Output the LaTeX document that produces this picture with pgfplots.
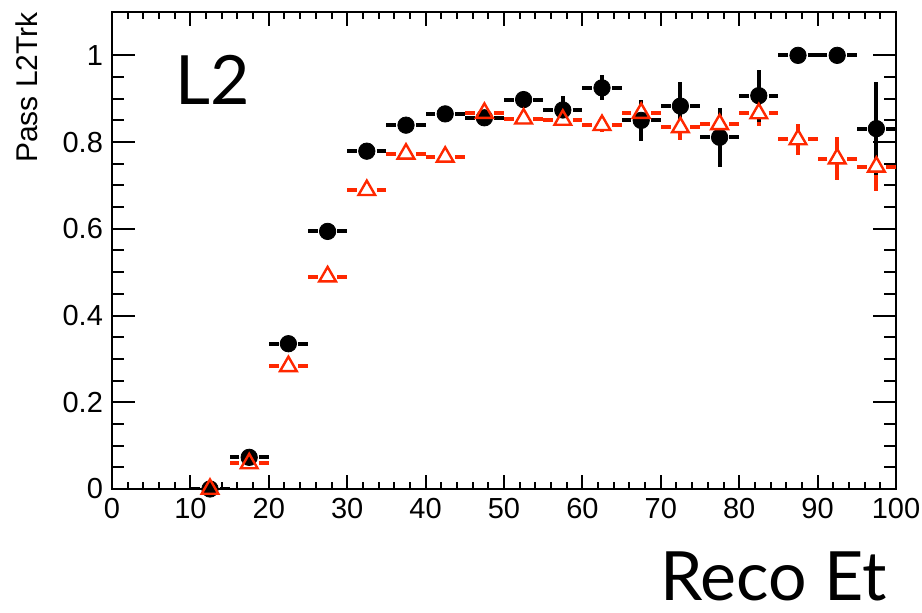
\documentclass[border=0pt]{standalone}
\usepackage{pgfplots}
\pgfplotsset{compat=1.18}
\usepackage{pgfplotstable}
\usepackage{fontspec}
\setmainfont{Liberation Sans}
\newfontfamily\gill{Lato}
\definecolor{rootred}{RGB}{255,40,0}

\pgfplotstableread{
x y ey
12.5 0.000 0.000
17.5 0.073 0.010
22.5 0.335 0.010
27.5 0.594 0.010
32.5 0.779 0.010
37.5 0.839 0.010
42.5 0.865 0.010
47.5 0.856 0.012
52.5 0.898 0.015
57.5 0.874 0.032
62.5 0.925 0.029
67.5 0.850 0.048
72.5 0.883 0.055
77.5 0.811 0.068
82.5 0.907 0.060
87.5 1.000 0.000
92.5 1.000 0.000
97.5 0.831 0.107
}\blk

\pgfplotstableread{
x y ey
12.5 0.000 0.000
17.5 0.059 0.010
22.5 0.283 0.010
27.5 0.490 0.010
32.5 0.689 0.010
37.5 0.773 0.010
42.5 0.766 0.010
47.5 0.867 0.010
52.5 0.854 0.010
57.5 0.851 0.015
62.5 0.839 0.015
67.5 0.867 0.020
72.5 0.834 0.030
77.5 0.841 0.038
82.5 0.866 0.028
87.5 0.806 0.036
92.5 0.762 0.050
97.5 0.743 0.055
}\red

\begin{document}
\begin{tikzpicture}
\begin{axis}[
  scale only axis, width=392pt, height=238.5pt,
  xmin=0, xmax=100, ymin=0, ymax=1.1,
  xtick={0,10,20,30,40,50,60,70,80,90,100},
  ytick={0,0.2,0.4,0.6,0.8,1},
  minor x tick num=4, minor y tick num=3,
  tick align=inside, tick pos=both,
  axis line style={line width=1pt},
  tick style={line width=1pt, black},
  major tick length=11.5pt, minor tick length=6pt,
  xtick style={/pgfplots/major tick length=7pt,/pgfplots/minor tick length=3.5pt},
  tick label style={font=\fontsize{14.5}{16}\selectfont},
  /pgf/number format/assume math mode=true,
  xticklabel style={yshift=-1pt},
  yticklabel style={xshift=-1pt},
]
% red horizontal bars
\addplot[draw=none, mark=none, forget plot,
  error bars/.cd, x dir=both, x fixed=2.5, error mark=none,
  error bar style={draw=rootred, line width=2pt, dash pattern=on 4.9pt off 4.9pt, dash phase=4.9pt}]
  table[x=x, y=y] {\red};
% red vertical bars
\addplot[draw=none, mark=none, forget plot,
  error bars/.cd, y dir=both, y explicit, error mark=none,
  error bar style={draw=rootred, line width=2pt}]
  table[x=x, y=y, y error=ey] {\red};
% white background of triangles
\addplot[only marks, mark=triangle*, mark size=4.6pt, forget plot,
  mark options={fill=white, draw=none}]
  table[x=x, y=y] {\red};
% black horizontal bars
\addplot[draw=none, mark=none, forget plot,
  error bars/.cd, x dir=both, x fixed=2.5, error mark=none,
  error bar style={draw=black, line width=2pt, dash pattern=on 4.9pt off 4.9pt, dash phase=4.9pt}]
  table[x=x, y=y] {\blk};
% black vertical bars and markers
\addplot[only marks, mark=*, mark size=4.1pt, black, forget plot,
  error bars/.cd, y dir=both, y explicit, error mark=none,
  error bar style={draw=black, line width=2pt}]
  table[x=x, y=y, y error=ey] {\blk};
% red open triangles
\addplot[only marks, mark=triangle, mark size=4.8pt, forget plot,
  mark options={draw=rootred, line width=1.2pt, fill=none}]
  table[x=x, y=y] {\red};
\end{axis}
\node[anchor=base west, inner sep=0, font=\gill\fontsize{34}{40}\selectfont]
  at ([shift={(31.5pt,-46.5pt)}]current axis.north west) {L2};
\node[anchor=base east, inner sep=0, font=\gill\fontsize{34}{40}\selectfont]
  at ([shift={(-4.5pt,-56pt)}]current axis.south east) {Reco Et};
\node[rotate=90, anchor=north east, inner sep=0, font=\fontsize{15}{18}\selectfont]
  at ([shift={(-48.5pt,0pt)}]current axis.north west) {Pass L2Trk};
\pgfresetboundingbox
\path ([shift={(-56pt,-62pt)}]current axis.south west) rectangle ([shift={(13pt,6pt)}]current axis.north east);
\end{tikzpicture}
\end{document}
